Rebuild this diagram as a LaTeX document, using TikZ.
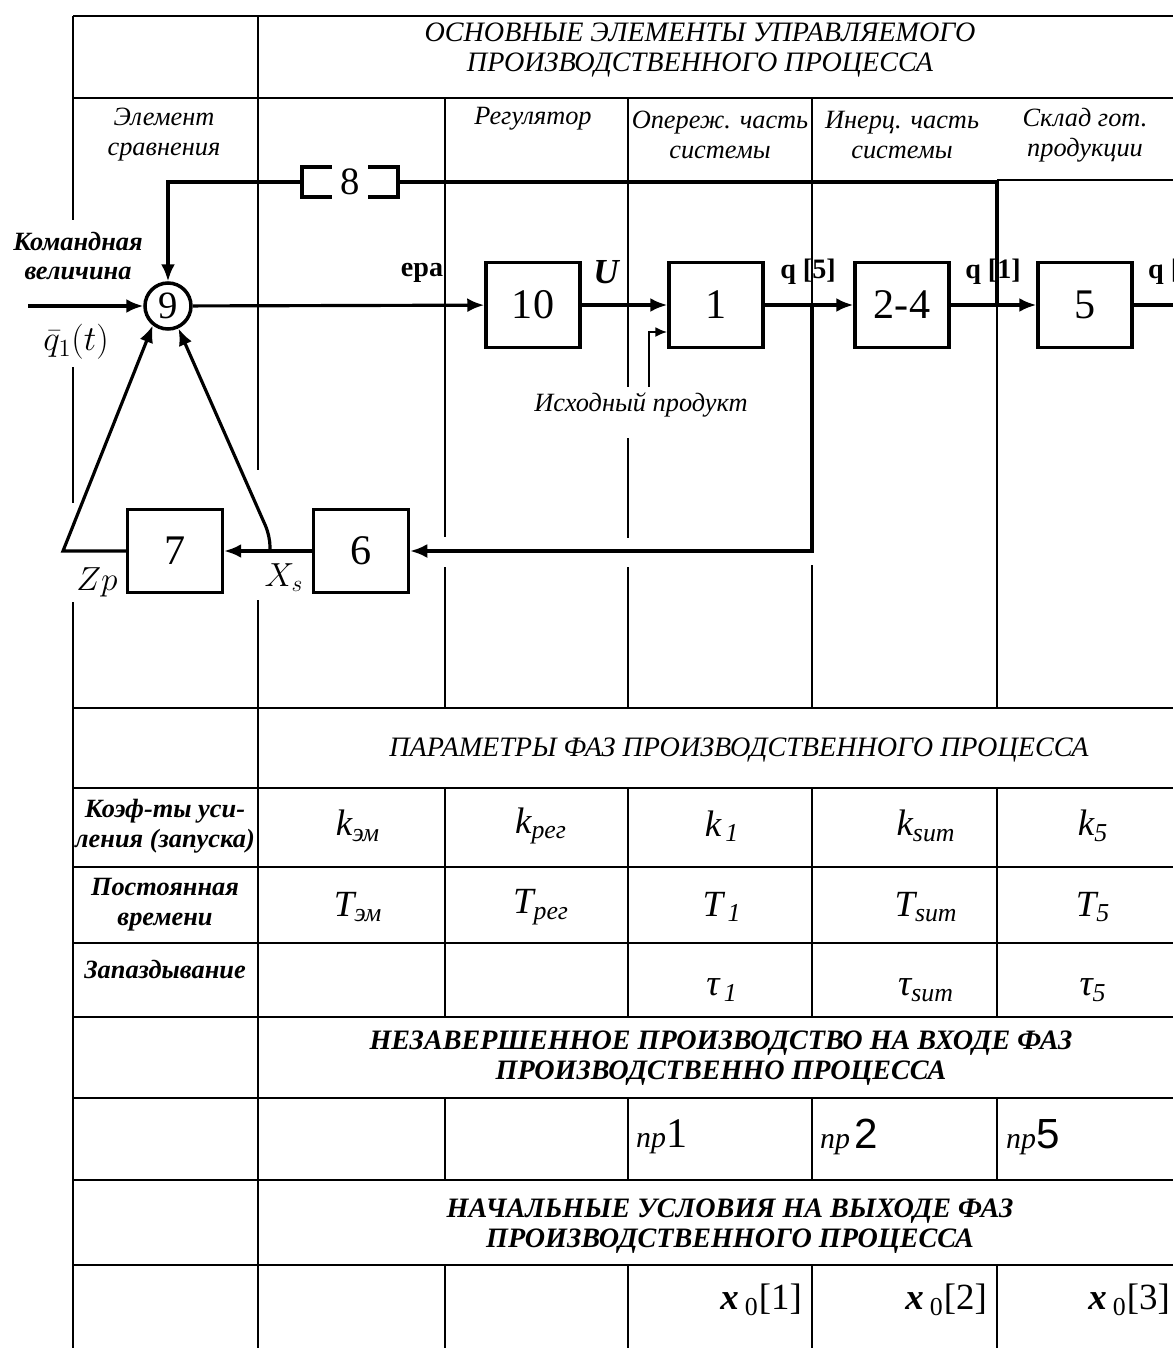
\RequirePackage{fix-cm}
\documentclass[tikz,border=0pt]{standalone}
\usepackage{amsmath}
\usepackage{fontspec}
\setmainfont{Liberation Serif}
\setsansfont{Liberation Sans}
\usetikzlibrary{arrows.meta}

\newcommand{\prm}[2]{{\itshape #1}\textsubscript{\itshape #2}}

\begin{document}
\begin{tikzpicture}[x=0.02cm, y=-0.02cm,
    block/.style={draw, line width=2pt, minimum width=1.88cm, minimum height=1.7cm,
      inner sep=0pt, font=\fontsize{24}{24}\selectfont},
    summer/.style={circle, draw, line width=2pt, minimum size=0.92cm, inner sep=0pt,
      font=\fontsize{22}{22}\selectfont},
    sig/.style={line width=1.8pt},
    arr/.style={sig, -{Latex[length=3.4mm,width=2.8mm]}},
    rule/.style={line width=0.6pt},
    heavy/.style={line width=1.3pt},
    bighead/.style={align=center, font=\fontsize{16}{17}\selectfont\itshape},
    colname/.style={align=center, font=\fontsize{15}{17}\selectfont\itshape},
    rowname/.style={align=center, font=\fontsize{15}{17}\selectfont\bfseries\itshape},
    signame/.style={font=\fontsize{16}{16}\selectfont\bfseries},
    tabval/.style={font=\fontsize{21}{21}\selectfont}]
   \fill[white] (0,0) rectangle (1173,1348);
   \useasboundingbox (0,0) rectangle (1173,1348);

   % table
   \draw[heavy] (73,16) -- (73,220) (73,367) -- (73,503) (73,602) -- (73,1348);
   \draw[rule] (73,16) -- (1173,16);
   \draw[heavy] (73,98) -- (1173,98);
   \draw[rule] (997,180) -- (1173,180);
   \draw[heavy] (73,708) -- (1173,708);
   \foreach \y in {788,867,943,1017,1098,1180,1265}
     \draw[rule] (73,\y) -- (1173,\y);
   \draw[rule] (258,16) -- (258,470) (258,600) -- (258,1348);
   \draw[rule] (445,98) -- (445,537) (445,567) -- (445,708);
   \draw[rule] (628,98) -- (628,387) (628,438) -- (628,538) (628,567) -- (628,708);
   \draw[rule] (812,98) -- (812,305) (812,565) -- (812,708);
   \draw[rule] (997,305) -- (997,708);
   \foreach \x in {445,628,997}
     \draw[rule] (\x,788) -- (\x,1017) (\x,1098) -- (\x,1180) (\x,1265) -- (\x,1348);
   \draw[heavy] (812,788) -- (812,1017) (812,1098) -- (812,1180) (812,1265) -- (812,1348);

   \node[bighead] (hdr) at (700,50) {ОСНОВНЫЕ ЭЛЕМЕНТЫ УПРАВЛЯЕМОГО\\ПРОИЗВОДСТВЕННОГО ПРОЦЕССА};
   \node[colname] (cmp) at (164,135) {Элемент\\сравнения};
   \node[colname] (reg) at (533,119) {Регулятор};
   \node[colname] (lead) at (720,135) {Опереж. часть\\системы};
   \node[colname] (inert) at (902,135) {Инерц. часть\\системы};
   \node[colname] (store) at (1085,135) {Склад гот.\\продукции};

   % control loop
   \node[summer] (s9) at (168,306) {9};
   \node[block] (b10) at (533,305) {10};
   \node[block] (b1) at (716,305) {1};
   \node[block] (b24) at (902,305) {2-4};
   \node[block] (b5) at (1085,305) {5};
   \node[block, minimum width=1.9cm, minimum height=1.66cm] (b6) at (361,551) {6};
   \node[block, minimum width=1.9cm, minimum height=1.66cm] (b7) at (175,551) {7};
   \node[inner sep=0pt, minimum width=1.92cm, minimum height=0.6cm,
     font=\fontsize{22}{22}\selectfont] (b8) at (350,182) {8};
   \draw[line width=2.2pt] (b8.north west) ++(30,0) -- ++(-30,0) -- ++(0,30) -- ++(30,0);
   \draw[line width=2.2pt] (b8.north east) ++(-30,0) -- ++(30,0) -- ++(0,30) -- ++(-30,0);

   \coordinate (in) at (28,306);
   \coordinate (out) at (1173,305);
   \coordinate (j5) at (812,305);
   \coordinate (c6) at (812,551);
   \coordinate (j1) at (997,305);
   \coordinate (t1) at (997,182);
   \coordinate (t9) at (168,182);
   \coordinate (jx) at (270,551);
   \coordinate (xb) at (270,536);
   \coordinate (zc) at (63,551);
   \coordinate (src) at (649,387);
   \coordinate (srcb) at (649,332);

   \draw[arr] (in) -- (s9);
   \draw[arr] (s9) -- (b10);
   \draw[arr] (b10) -- (b1);
   \draw[arr] (b1) -- (b24);
   \draw[arr] (b24) -- (b5);
   \draw[sig] (b5) -- (out);
   \draw[arr] (j5) -- (c6) -- (b6);
   \draw[arr] (b6) -- (b7);
   \draw[arr, rounded corners=6pt] (jx) -- (xb) -- (s9.295);
   \draw[arr] (b7) -- (zc) -- (s9.232);
   \draw[sig] (j1) -- (t1) -- (b8);
   \draw[arr] (b8) -- (t9) -- (s9);
   \draw[line width=1.2pt, -{Latex[length=2.4mm,width=2mm]}] (src) -- (srcb) -- (srcb -| b1.west);

   \node[rowname] (cmd) at (78,256) {Командная\\величина};
   \node[font=\fontsize{20}{20}\selectfont] (qin) at (76,342) {$\bar{q}_1(t)$};
   \node[font=\fontsize{19}{19}\selectfont] (zp) at (97,582) {$Zp$};
   \node[font=\fontsize{19}{19}\selectfont] (xs) at (284,578) {$X_s$};
   \node[signame] (era) at (422,273) {ера};
   \node[font=\fontsize{20}{20}\selectfont\bfseries\itshape] (u) at (606,272) {U};
   \node[signame] (q5) at (808,272) {q [5]};
   \node[signame] (q1) at (993,272) {q [1]};
   \node[signame, anchor=west] (q2) at (1142,272) {q [};
   \node[colname] (srcname) at (641,405) {Исходный продукт};

   % parameters
   \node[bighead] (par) at (739,750) {ПАРАМЕТРЫ ФАЗ ПРОИЗВОДСТВЕННОГО ПРОЦЕССА};
   \node[rowname] (rk) at (165,826) {Коэф-ты уси-\\ления (запуска)};
   \node[rowname] (rt) at (165,905) {Постоянная\\времени};
   \node[rowname] (rd) at (165,970) {Запаздывание};
   \node[tabval] (k0) at (358,826) {\prm{k}{эм}};
   \node[tabval] (k1) at (541,826) {\prm{k}{рег}};
   \node[tabval] (k2) at (722,826) {\prm{k}{\,1}};
   \node[tabval] (k3) at (926,826) {\prm{k}{sum}};
   \node[tabval] (k4) at (1093,826) {\prm{k}{5}};
   \node[tabval] (t0) at (358,907) {\prm{T}{эм}};
   \node[tabval] (t1v) at (541,907) {\prm{T}{рег}};
   \node[tabval] (t2) at (722,907) {\prm{T}{\,1}};
   \node[tabval] (t3) at (926,907) {\prm{T}{sum}};
   \node[tabval] (t4) at (1093,907) {\prm{T}{5}};
   \node[tabval] (d2) at (722,990) {\prm{τ}{\,1}};
   \node[tabval] (d3) at (926,990) {\prm{τ}{sum}};
   \node[tabval] (d4) at (1093,990) {\prm{τ}{5}};

   \node[bighead, font=\fontsize{16}{17}\selectfont\bfseries\itshape] (unf) at (721,1058)
     {НЕЗАВЕРШЕННОЕ ПРОИЗВОДСТВО НА ВХОДЕ ФАЗ\\ПРОИЗВОДСТВЕННО ПРОЦЕССА};
   \node[anchor=west] (np1) at (630,1137) {{\fontsize{17}{17}\selectfont\itshape пр}{\fontsize{24}{24}\selectfont 1}};
   \node[anchor=west] (np2) at (814,1137) {{\fontsize{17}{17}\selectfont\itshape пр} {\fontsize{24}{24}\selectfont\sffamily 2}};
   \node[anchor=west] (np5) at (1000,1137) {{\fontsize{17}{17}\selectfont\itshape пр}{\fontsize{24}{24}\selectfont\sffamily 5}};

   \node[bighead, font=\fontsize{16}{17}\selectfont\bfseries\itshape] (ini) at (730,1226)
     {НАЧАЛЬНЫЕ УСЛОВИЯ НА ВЫХОДЕ ФАЗ\\ПРОИЗВОДСТВЕННОГО ПРОЦЕССА};
   \node[tabval, anchor=east] (x1) at (808,1300) {{\bfseries\itshape x}\,\textsubscript{0}[1]};
   \node[tabval, anchor=east] (x2) at (993,1300) {{\bfseries\itshape x}\,\textsubscript{0}[2]};
   \node[tabval, anchor=east] (x3) at (1176,1300) {{\bfseries\itshape x}\,\textsubscript{0}[3]};
\end{tikzpicture}
\end{document}
